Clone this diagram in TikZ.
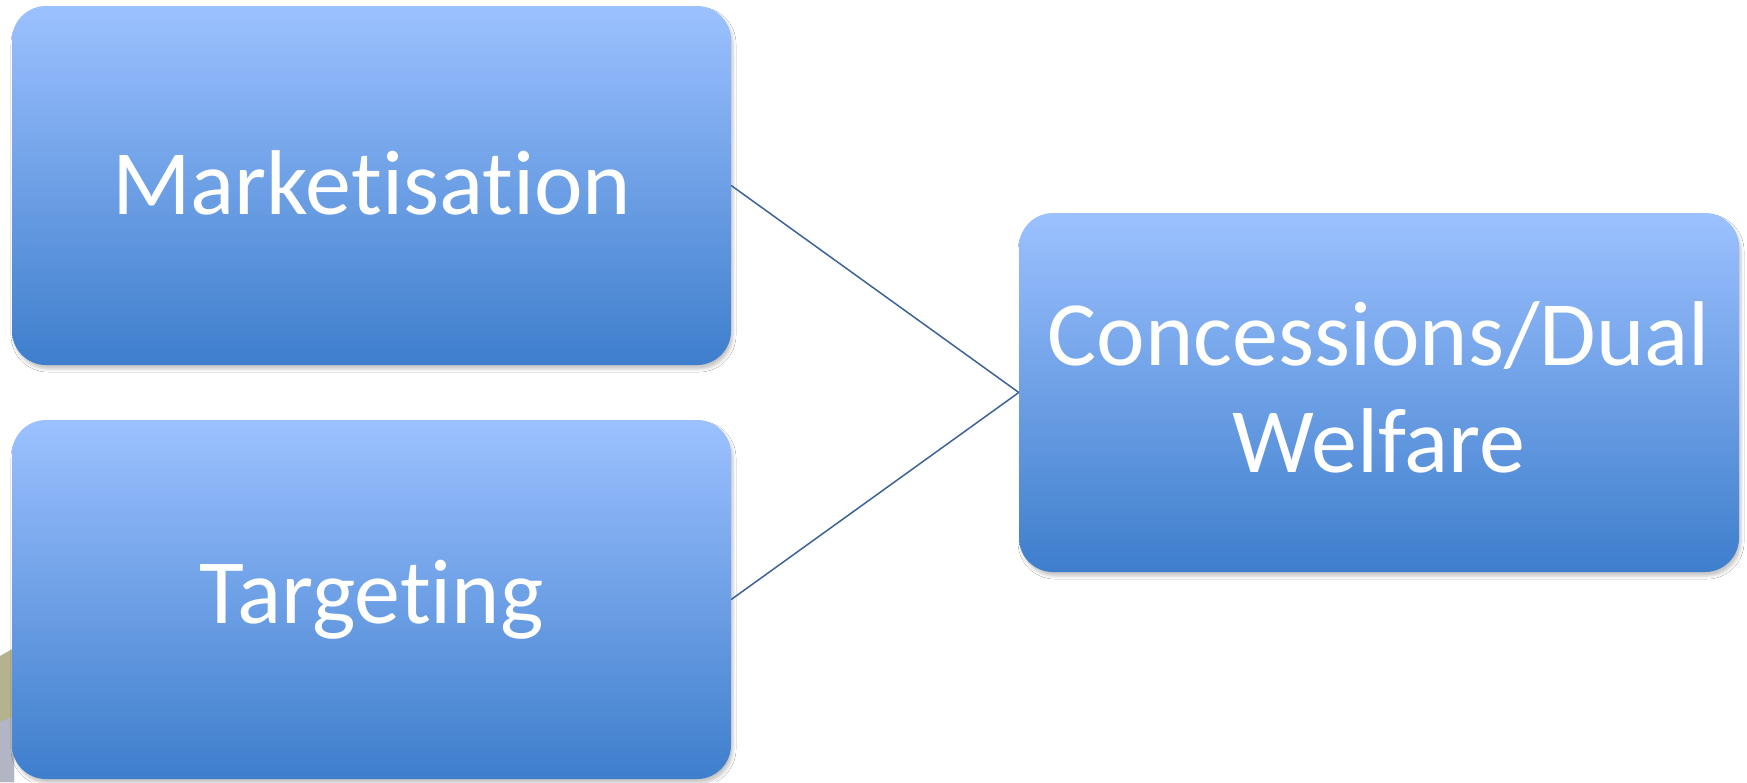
\documentclass[tikz,border=0pt]{standalone}
\usepackage{fontspec}
\setmainfont[Ligatures={NoCommon,NoRare,NoContextual}]{Carlito}
\usetikzlibrary{shadows.blur}
\definecolor{boxtop}{HTML}{9CC1FF}
\definecolor{boxbot}{HTML}{3E7ECC}
\definecolor{linkcol}{HTML}{3C6395}
\definecolor{olivebg}{HTML}{B3B48E}
\definecolor{greybg}{HTML}{B2B5C4}
\tikzset{
  boxnode/.style={rectangle, rounded corners=34pt, top color=boxtop, bottom color=boxbot,
    draw=none, text=white, align=center, inner sep=0pt,
    font=\fontsize{92}{104}\selectfont,
    blur shadow={shadow xshift=2pt, shadow yshift=-4pt, shadow blur radius=3pt, shadow opacity=22}},
  link/.style={draw=linkcol, line width=1.5pt}
}
\begin{document}
\begin{tikzpicture}[x=1pt,y=-1pt]
\useasboundingbox (0,0) rectangle (1747,782);
\fill[white] (0,0) rectangle (1747,782);
% background fragment at bottom left
\fill[olivebg] (0,656) -- (14,648) -- (14,782) -- (0,782) -- cycle;
\fill[greybg] (0,722) -- (14,716) -- (14,782) -- (0,782) -- cycle;
\node[boxnode, minimum width=719pt, minimum height=359pt] (m) at (371.5,185.5) {\raisebox{5pt}{Marketisation}};
\node[boxnode, minimum width=719pt, minimum height=359pt] (t) at (371.5,599.5) {Targeting};
\node[boxnode, minimum width=720pt, minimum height=359pt] (c) at (1379,392.5) {\raisebox{-5pt}[\height][\depth]{\renewcommand{\arraystretch}{1.03}\begin{tabular}{@{}c@{}}Concessions/Dual\\Welfare\end{tabular}}};
\draw[link] (m.east) -- (c.west);
\draw[link] (t.east) -- (c.west);
\end{tikzpicture}
\end{document}
